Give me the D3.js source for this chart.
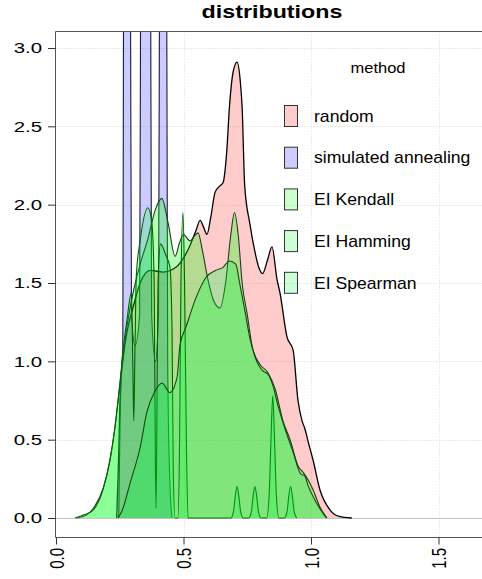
<!DOCTYPE html>
<html>
<head>
<meta charset="utf-8">
<script src="https://cdn.jsdelivr.net/npm/d3@7"></script>
<style>
  body { margin: 0; background: #fff; }
  text { font-family: "Liberation Sans", Arial, sans-serif; fill: #000; }
</style>
</head>
<body>
<div id="chart"></div>
<script>
// legend order
const methods = ["random", "simulated annealing", "EI Kendall", "EI Hamming", "EI Spearman"];

// density curves: [value, density]
const randomDensity = [[0.238,0],[0.245,0.35],[0.252,0.8],[0.262,1.0],[0.28,1.2],[0.3,1.33],[0.33,1.5],[0.37,1.58],[0.42,1.57],[0.47,1.6],[0.52,1.72],[0.55,1.84],[0.565,1.9],[0.578,1.86],[0.592,1.81],[0.607,1.92],[0.624,2.08],[0.643,2.12],[0.655,2.14],[0.67,2.35],[0.68,2.62],[0.695,2.85],[0.71,2.91],[0.722,2.8],[0.73,2.62],[0.74,2.12],[0.76,1.88],[0.78,1.7],[0.795,1.6],[0.81,1.56],[0.83,1.65],[0.847,1.73],[0.867,1.52],[0.878,1.44],[0.906,1.155],[0.93,1.07],[0.949,0.75],[0.965,0.62],[0.976,0.57],[0.99,0.48],[1.008,0.37],[1.035,0.18],[1.075,0.05],[1.11,0.01],[1.16,0]];

const annealingDensity = [[0.246,0],[0.251,0.6],[0.257,0.95],[0.262,1.08],[0.265,3.5],[0.27,5],[0.287,5],[0.292,3.5],[0.296,1.3],[0.31,1.1],[0.328,1.3],[0.332,3.5],[0.337,5],[0.366,5],[0.371,3.5],[0.375,1.3],[0.39,1.0],[0.402,1.3],[0.406,3.5],[0.41,5],[0.43,5],[0.434,3.5],[0.438,1.0],[0.445,0.3],[0.455,0]];

const kendallDensity = [[0.08,0],[0.12,0.02],[0.15,0.07],[0.185,0.19],[0.21,0.36],[0.23,0.56],[0.25,0.85],[0.265,1.06],[0.28,1.24],[0.3,1.42],[0.33,1.62],[0.36,1.78],[0.39,1.97],[0.415,2.04],[0.44,1.88],[0.467,1.67],[0.485,1.76],[0.5,1.81],[0.525,1.77],[0.557,1.82],[0.575,1.7],[0.596,1.52],[0.62,1.38],[0.643,1.34],[0.665,1.5],[0.685,1.8],[0.7,1.95],[0.715,1.8],[0.73,1.5],[0.75,1.3],[0.77,1.09],[0.8,0.98],[0.83,0.93],[0.86,0.82],[0.89,0.62],[0.918,0.5],[0.95,0.33],[0.97,0.29],[0.99,0.24],[1.008,0.18],[1.035,0.07],[1.063,0]];

const hammingDensity = [[0.075,0],[0.11,0.02],[0.145,0.05],[0.184,0.18],[0.212,0.37],[0.231,0.58],[0.251,0.86],[0.263,1.07],[0.278,1.26],[0.296,1.44],[0.301,1.0],[0.305,0.62],[0.309,1.0],[0.315,1.55],[0.33,1.77],[0.36,1.98],[0.375,1.9],[0.385,1.5],[0.389,0.5],[0.392,0.06],[0.395,0.5],[0.4,1.5],[0.41,1.75],[0.43,1.68],[0.447,1.6],[0.455,1.2],[0.46,0.3],[0.467,0],[0.478,0],[0.484,0.4],[0.49,1.5],[0.498,1.95],[0.505,1.4],[0.512,0.4],[0.518,0],[0.686,0],[0.696,0.04],[0.703,0.14],[0.71,0.2],[0.717,0.14],[0.724,0.04],[0.734,0],[0.756,0],[0.766,0.04],[0.773,0.14],[0.78,0.2],[0.787,0.14],[0.794,0.04],[0.804,0],[0.826,0],[0.836,0.15],[0.843,0.5],[0.85,0.78],[0.857,0.5],[0.864,0.15],[0.874,0],[0.896,0],[0.906,0.04],[0.913,0.14],[0.92,0.2],[0.927,0.14],[0.934,0.04],[0.944,0]];

const spearmanDensity = [[0.243,0],[0.26,0.05],[0.29,0.22],[0.33,0.45],[0.357,0.68],[0.385,0.8],[0.416,0.86],[0.447,0.8],[0.475,0.9],[0.486,1.1],[0.51,1.22],[0.55,1.41],[0.59,1.54],[0.625,1.58],[0.655,1.6],[0.68,1.64],[0.705,1.62],[0.72,1.5],[0.74,1.33],[0.76,1.15],[0.78,1.03],[0.81,0.94],[0.83,0.92],[0.85,0.85],[0.87,0.72],[0.9,0.56],[0.93,0.42],[0.96,0.28],[0.975,0.27],[0.99,0.2],[1.02,0.1],[1.06,0]];

const series = [randomDensity, annealingDensity, kendallDensity, hammingDensity, spearmanDensity];

const xTicks = [0, 0.5, 1.0, 1.5];
const yTicks = [0, 0.5, 1.0, 1.5, 2.0, 2.5, 3.0];

// styles
const fillColors = ["#ff0000", "#0000ff", "#00ff00", "#00ff30", "#00ff40"];
const fillOpacity = [0.2, 0.2, 0.29, 0.22, 0.29];
const strokeColors = ["#000000", "#1a1a40", "#1e3a1e", "#006400", "#104a10"];

const width = 482, height = 579;
const panel = {left: 55.5, top: 31.5, bottom: 537.5, right: 490};
const stretch = 1.36;

const x = d3.scaleLinear().domain([0, 1]).range([56, 311]);
const y = d3.scaleLinear().domain([0, 3]).range([518, 48]);

const svg = d3.select("#chart").append("svg")
    .attr("width", width)
    .attr("height", height);

svg.append("defs").append("clipPath").attr("id", "panel")
    .append("rect")
    .attr("x", panel.left).attr("y", panel.top)
    .attr("width", panel.right - panel.left).attr("height", panel.bottom - panel.top);

// grid
const grid = svg.append("g");
grid.selectAll("line.gy")
    .data(yTicks.filter(d => d > 0))
    .join("line")
    .attr("x1", panel.left).attr("x2", panel.right)
    .attr("y1", d => Math.round(y(d)) + 0.5).attr("y2", d => Math.round(y(d)) + 0.5)
    .attr("stroke", "#d4d4d4").attr("stroke-dasharray", "1,2");
grid.selectAll("line.gx")
    .data(xTicks.filter(d => d > 0))
    .join("line")
    .attr("x1", d => Math.round(x(d)) + 0.5).attr("x2", d => Math.round(x(d)) + 0.5)
    .attr("y1", panel.top).attr("y2", panel.bottom)
    .attr("stroke", "#d4d4d4").attr("stroke-dasharray", "1,2");
grid.append("line")
    .attr("x1", panel.left).attr("x2", panel.right)
    .attr("y1", y(0) + 0.5).attr("y2", y(0) + 0.5)
    .attr("stroke", "#c4c4c4");

// densities
const area = d3.area()
    .x(d => x(d[0]))
    .y0(y(0))
    .y1(d => y(d[1]))
    .curve(d3.curveMonotoneX);
const line = d3.line()
    .x(d => x(d[0]))
    .y(d => y(d[1]))
    .curve(d3.curveMonotoneX);

const plot = svg.append("g").attr("clip-path", "url(#panel)");
series.forEach((s, i) => {
    plot.append("path")
        .attr("d", area(s))
        .attr("fill", fillColors[i])
        .attr("fill-opacity", fillOpacity[i])
        .attr("stroke", "none");
    plot.append("path")
        .attr("d", line(s))
        .attr("fill", "none")
        .attr("stroke", strokeColors[i])
        .attr("stroke-width", i === 0 ? 1.3 : 1.1);
});

// panel border
svg.append("path")
    .attr("d", `M${panel.right},${panel.top}H${panel.left}V${panel.bottom}H${panel.right}`)
    .attr("fill", "none")
    .attr("stroke", "#555");

// y axis
svg.selectAll("line.ty")
    .data(yTicks)
    .join("line")
    .attr("x1", 48).attr("x2", panel.left)
    .attr("y1", d => y(d) + 0.5).attr("y2", d => y(d) + 0.5)
    .attr("stroke", "#333");
svg.selectAll("text.ty")
    .data(yTicks)
    .join("text")
    .attr("transform", d => `translate(42,${y(d)}) scale(${stretch},1)`)
    .attr("text-anchor", "end")
    .attr("dy", "0.36em")
    .style("font-size", "15px")
    .text(d => d.toFixed(1));

// x axis
svg.selectAll("line.tx")
    .data(xTicks)
    .join("line")
    .attr("x1", d => x(d) + 0.5).attr("x2", d => x(d) + 0.5)
    .attr("y1", panel.bottom).attr("y2", panel.bottom + 7)
    .attr("stroke", "#333");
svg.selectAll("text.tx")
    .data(xTicks)
    .join("text")
    .attr("transform", d => `translate(${x(d) + 7.5},548) scale(${stretch},1) rotate(-90)`)
    .attr("text-anchor", "end")
    .style("font-size", "15px")
    .text(d => d.toFixed(1));

// title
svg.append("text")
    .attr("transform", "translate(272,17.5) scale(1.33,1)")
    .attr("text-anchor", "middle")
    .style("font-size", "17.5px")
    .style("font-weight", "bold")
    .text("distributions");

// legend
const legend = svg.append("g");
legend.append("text")
    .attr("transform", "translate(378,73) scale(1.1,1)")
    .attr("text-anchor", "middle")
    .style("font-size", "15px")
    .text("method");
const keys = legend.selectAll("g.key")
    .data(methods)
    .join("g")
    .attr("transform", (d, i) => `translate(284,${116 + i * 41.7})`);
keys.append("rect")
    .attr("x", 0.5).attr("y", -10.5)
    .attr("width", 13).attr("height", 21)
    .attr("fill", (d, i) => fillColors[i])
    .attr("fill-opacity", 0.2)
    .attr("stroke", "#333");
keys.append("text")
    .attr("transform", "translate(30,0) scale(1.1,1)")
    .attr("dy", "0.36em")
    .style("font-size", "16px")
    .text(d => d);
</script>
</body>
</html>
